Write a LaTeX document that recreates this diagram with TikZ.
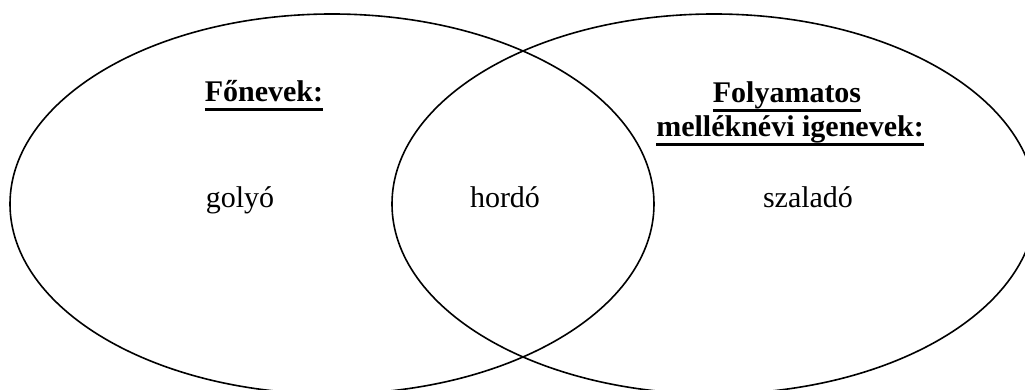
\documentclass[tikz,border=0pt]{standalone}
\usepackage{fontspec}
\setmainfont{Liberation Serif}
% thick underline, as in the original
\newcommand\alahuz[1]{\leavevmode\setbox0\hbox{#1}\rlap{\rule[-4.3pt]{\wd0}{1.2pt}}\box0}
\begin{document}
\begin{tikzpicture}[x=0.5pt,y=0.5pt,
    halmaz/.style={line width=0.8pt},
    cimke/.style={font=\fontsize{15}{17}\selectfont\bfseries, anchor=base, align=center},
    szo/.style={font=\fontsize{15}{17}\selectfont, anchor=base}]
    % image is 1025 x 390 px, 1 px = 0.5pt
    \useasboundingbox (0,0) rectangle (1025,390);
    \clip (0,0) rectangle (1025,390);
    % two ellipses, rx = 322, ry = 190
    \coordinate (L) at (332,186);
    \coordinate (R) at (714,186);
    \draw[halmaz] (L) ellipse (322 and 190);
    \draw[halmaz] (R) ellipse (322 and 190);
    % headings
    \node[cimke] (fonevek) at (264,288) {\alahuz{Főnevek:}};
    \node[cimke] (folyamatos) at (787,287) {\alahuz{Folyamatos}};
    \node[cimke] (mellekneviig) at (790,253) {\alahuz{melléknévi igenevek:}};
    % words
    \node[szo] (golyo) at (240,182) {golyó};
    \node[szo] (hordo) at (505,182) {hordó};
    \node[szo] (szalado) at (808,182) {szaladó};
\end{tikzpicture}
\end{document}
